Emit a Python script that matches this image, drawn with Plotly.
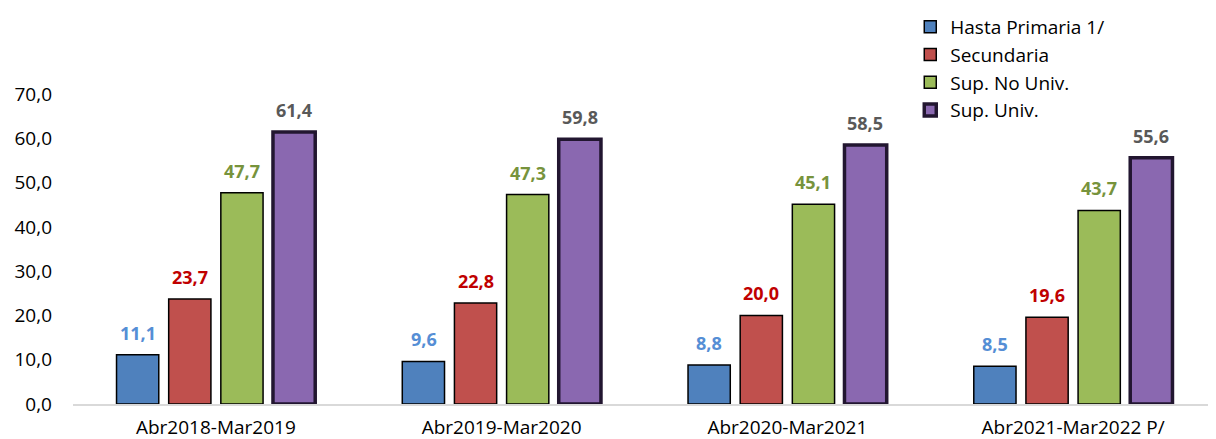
import plotly.graph_objects as go

categories = ["Abr2018-Mar2019", "Abr2019-Mar2020", "Abr2020-Mar2021", "Abr2021-Mar2022 P/"]
series_names = ["Hasta Primaria 1/", "Secundaria", "Sup. No Univ.", "Sup. Univ."]
hasta_primaria = [11.1, 9.6, 8.8, 8.5]
secundaria = [23.7, 22.8, 20.0, 19.6]
sup_no_univ = [47.7, 47.3, 45.1, 43.7]
sup_univ = [61.4, 59.8, 58.5, 55.6]
y_ticks = [0, 10, 20, 30, 40, 50, 60, 70]

series_values = [hasta_primaria, secundaria, sup_no_univ, sup_univ]
bar_colors = ["#4F81BD", "#C0504D", "#9BBB59", "#8A68B0"]
line_colors = ["#000000", "#000000", "#000000", "#221630"]
line_widths = [1.5, 1.5, 1.5, 3.5]
label_colors = ["#558ED5", "#C00000", "#77933C", "#595959"]
x_shifts = [-78, -26, 26, 78]

fig = go.Figure()
for name, vals, c, lc, lw in zip(series_names, series_values, bar_colors, line_colors, line_widths):
    fig.add_trace(go.Bar(
        x=categories, y=vals, name=name,
        marker=dict(color=c, line=dict(color=lc, width=lw)),
    ))

for vals, col, xs in zip(series_values, label_colors, x_shifts):
    for cat, v in zip(categories, vals):
        fig.add_annotation(
            x=cat, y=v, text=f"{v:.1f}".replace(".", ","),
            showarrow=False, yanchor="bottom", xshift=xs, yshift=8,
            font=dict(family="Open Sans", size=18, color=col, weight="bold"),
        )

fig.update_layout(
    width=1216, height=439,
    margin=dict(l=65, r=8, t=86, b=43, autoexpand=False),
    paper_bgcolor="white", plot_bgcolor="white",
    barmode="group", bargap=0.27, bargroupgap=0.19,
    separators=",.",
    font=dict(family="Open Sans", size=19, color="#000000"),
    showlegend=True,
    legend=dict(
        xref="container", yref="container",
        x=0.742, y=1.01, xanchor="left", yanchor="top",
        font=dict(family="Open Sans", size=19, color="#000000"),
        bgcolor="rgba(0,0,0,0)", tracegroupgap=0, itemwidth=30,
    ),
    xaxis=dict(
        showline=True, linecolor="#D9D9D9", linewidth=1.5,
        ticks="", showgrid=False, ticklabelstandoff=5, automargin=False,
        tickfont=dict(family="Open Sans", size=19, color="#000000"),
    ),
    yaxis=dict(
        range=[0, 70], tickvals=y_ticks, tickformat=".1f",
        showgrid=False, zeroline=False, showline=False, ticks="",
        ticklabelstandoff=20, automargin=False,
        tickfont=dict(family="Open Sans", size=19, color="#000000"),
    ),
)

fig.write_html("out.html")
